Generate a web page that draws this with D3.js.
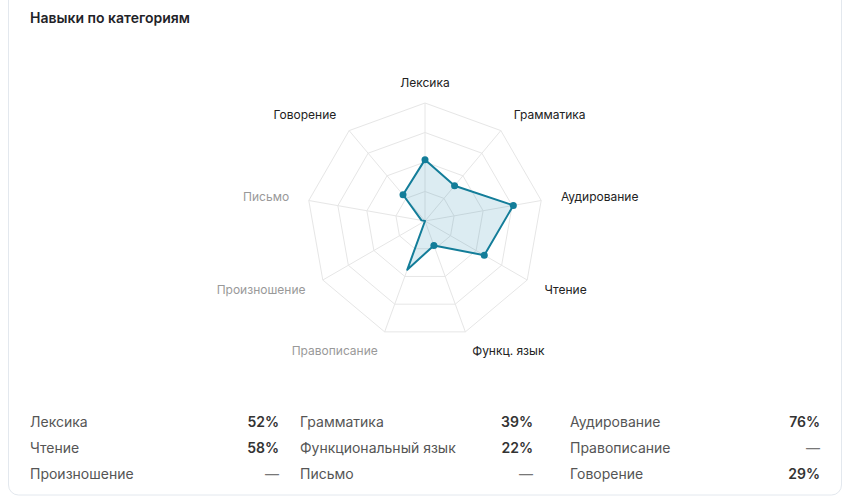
<!DOCTYPE html><html><head><meta charset="utf-8"><script src="https://cdn.jsdelivr.net/npm/d3@7"></script>
<style>body{margin:0;background:#fff;font-family:Inter,sans-serif}</style></head><body><svg id="c" width="850" height="498"></svg>
<script>
const axes=["Лексика","Грамматика","Аудирование","Чтение","Функц. язык","Правописание","Произношение","Письмо","Говорение"];
const values=[52,39,76,58,22,44,0,3,29];
const hasData=[true,true,true,true,true,false,false,false,true];
const legendLabels=["Лексика","Грамматика","Аудирование","Чтение","Функциональный язык","Правописание","Произношение","Письмо","Говорение"];
const legendValues=["52%","39%","76%","58%","22%","—","—","—","29%"];
const svg=d3.select("#c");
svg.append("rect").attr("x",8.5).attr("y",-10).attr("width",833).attr("height",505).attr("rx",10).attr("fill","#fff").attr("stroke","#e3e8ee");
svg.append("text").attr("x",30).attr("y",23).attr("font-size",14).attr("font-weight",600).attr("fill","#1f2328").text("Навыки по категориям");
const cx=425,cy=221,R=118;
const r=d3.scaleLinear().domain([0,100]).range([0,R]);
const ang=i=>i*2*Math.PI/axes.length;
const pt=(i,v)=>[cx+r(v)*Math.sin(ang(i)),cy-r(v)*Math.cos(ang(i))];
const g=svg.append("g");
[25,50,75,100].forEach(l=>g.append("polygon").attr("points",axes.map((a,i)=>pt(i,l).join(",")).join(" ")).attr("fill","none").attr("stroke","#e6e6e6").attr("stroke-width",1));
axes.forEach((a,i)=>{const p=pt(i,100);g.append("line").attr("x1",cx).attr("y1",cy).attr("x2",p[0]).attr("y2",p[1]).attr("stroke","#e6e6e6");});
g.append("polygon").attr("points",values.map((v,i)=>pt(i,v).join(",")).join(" ")).attr("fill","rgba(20,130,170,0.15)").attr("stroke","#137d99").attr("stroke-width",2).attr("stroke-linejoin","round");
values.forEach((v,i)=>{if(hasData[i]&&i!==5){const p=pt(i,v);g.append("circle").attr("cx",p[0]).attr("cy",p[1]).attr("r",3.5).attr("fill","#137d99");}});
axes.forEach((a,i)=>{const p=pt(i,118);const s=Math.sin(ang(i));const lp=[cx+138*s,cy-138*Math.cos(ang(i))];
 g.append("text").attr("x",lp[0]).attr("y",lp[1]).attr("dy","0.35em").attr("text-anchor",Math.abs(s)<0.1?"middle":(s>0?"start":"end")).attr("font-size",12).attr("fill",hasData[i]?"#222":"#999").text(a);});
const cols=[[30,279],[300,533],[570,820]];
legendLabels.forEach((l,k)=>{const c=cols[k%3],y=422+Math.floor(k/3)*26+5;
 svg.append("text").attr("x",c[0]).attr("y",y).attr("font-size",14).attr("fill","#555").text(l);
 svg.append("text").attr("x",c[1]).attr("y",y).attr("text-anchor","end").attr("font-size",14).attr("font-weight",legendValues[k]==="—"?400:600).attr("fill",legendValues[k]==="—"?"#777":"#333").text(legendValues[k]);});
</script></body></html>
